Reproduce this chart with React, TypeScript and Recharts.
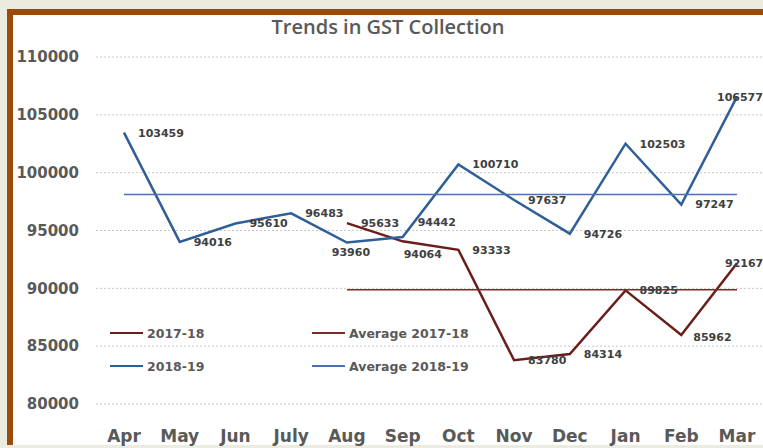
import React from 'react';
import { LineChart, Line, XAxis, YAxis, CartesianGrid, LabelList } from 'recharts';

const MONTHS = ['Apr', 'May', 'Jun', 'July', 'Aug', 'Sep', 'Oct', 'Nov', 'Dec', 'Jan', 'Feb', 'Mar'];
const GST_2017_18 = [null, null, null, null, 95633, 94064, 93333, 83780, 84314, 89825, 85962, 92167];
const GST_2018_19 = [103459, 94016, 95610, 96483, 93960, 94442, 100710, 97637, 94726, 102503, 97247, 106577];
const AVG_2017_18 = [null, null, null, null, 89885, 89885, 89885, 89885, 89885, 89885, 89885, 89885];
const AVG_2018_19 = [98114, 98114, 98114, 98114, 98114, 98114, 98114, 98114, 98114, 98114, 98114, 98114];
const Y_TICKS = [80000, 85000, 90000, 95000, 100000, 105000, 110000];

const data = MONTHS.map((month, i) => ({
  month,
  y1718: GST_2017_18[i],
  avg1718: AVG_2017_18[i],
  y1819: GST_2018_19[i],
  avg1819: AVG_2018_19[i],
}));

const SERIES = [
  { key: 'y1718', name: '2017-18', color: '#6b1d1a', width: 2.5 },
  { key: 'avg1718', name: 'Average 2017-18', color: '#7d2b28', width: 1.5 },
  { key: 'y1819', name: '2018-19', color: '#2f5f98', width: 2.5 },
  { key: 'avg1819', name: 'Average 2018-19', color: '#4a72b2', width: 1.5 },
];

// label nudges (dx, dy, anchor) where the default "right of point" doesn't match
const NUDGE_1819: { [i: number]: [number, number, string] } = {
  4: [4, 10, 'middle'],
  5: [15, -15, 'start'],
  11: [-20, 1, 'start'],
};
const NUDGE_1718: { [i: number]: [number, number, string] } = {
  5: [1, 13, 'start'],
  10: [12, 2, 'start'],
  11: [-12, 0, 'start'],
};

const FONT = '"DejaVu Sans", Verdana, sans-serif';
const GREY = '#595959';

const makeLabel = (nudge: { [i: number]: [number, number, string] }) => (props: any) => {
  const { x, y, value, index } = props;
  if (value == null) return null;
  const [dx, dy, anchor] = nudge[index] || [14, 0, 'start'];
  return (
    <text
      x={x + dx}
      y={y + dy}
      dy="0.35em"
      textAnchor={anchor}
      fontSize={11}
      fontWeight="bold"
      fontFamily={FONT}
      fill="#404040"
    >
      {value}
    </text>
  );
};

// 2x2 legend drawn over the plot: series in the left column, averages in the right
const ChartLegend = () => (
  <div
    style={{
      position: 'absolute',
      left: 110,
      top: 324,
      display: 'grid',
      gridTemplateColumns: '202px 200px',
      gridTemplateRows: '18px 18px',
      gridAutoFlow: 'column',
      rowGap: 15,
    }}
  >
    {[SERIES[0], SERIES[2], SERIES[1], SERIES[3]].map((s) => (
      <div key={s.name} style={{ display: 'flex', alignItems: 'center', height: 18 }}>
        <span
          style={{ display: 'inline-block', width: 33, height: s.width === 2.5 ? 2.5 : 1.5, background: s.color, marginRight: 4 }}
        />
        <span style={{ fontFamily: FONT, fontWeight: 'bold', fontSize: 12.5, color: GREY }}>{s.name}</span>
      </div>
    ))}
  </div>
);

const App: React.FC = () => {
  return (
    <div style={{ position: 'fixed', left: 0, top: 0, width: 763, height: 448, background: '#ebebdf', overflow: 'hidden' }}>
      <div
        style={{
          position: 'absolute',
          left: 7,
          top: 9,
          width: 800,
          height: 436,
          background: '#ffffff',
          borderLeft: '6px solid #9a4a0b',
          borderTop: '6px solid #9a4a0b',
          boxSizing: 'border-box',
        }}
      />
      <div
        style={{
          position: 'absolute',
          left: 0,
          width: 776,
          top: 13,
          textAlign: 'center',
          fontFamily: '"Open Sans", sans-serif',
          fontWeight: 600,
          fontSize: 20,
          color: GREY,
        }}
      >
        Trends in GST Collection
      </div>
      <div style={{ position: 'absolute', left: 0, top: 0 }}>
        <LineChart width={770} height={448} data={data} margin={{ top: 57, right: 4, bottom: 0, left: 0 }}>
          <CartesianGrid horizontal vertical={false} stroke="#c8c8c8" strokeDasharray="2 2" />
          <XAxis
            dataKey="month"
            padding={{ left: 28, right: 29 }}
            axisLine={false}
            tickLine={false}
            tickSize={0}
            tickMargin={26}
            height={44}
            interval={0}
            tick={{ fontFamily: FONT, fontWeight: 'bold', fontSize: 17, fill: GREY }}
          />
          <YAxis
            domain={[80000, 110000]}
            ticks={Y_TICKS}
            axisLine={false}
            tickLine={false}
            tickSize={0}
            tickMargin={17}
            width={96}
            tick={{ fontFamily: FONT, fontWeight: 'bold', fontSize: 15, fill: GREY }}
          />
          {SERIES.map((s) => (
            <Line
              key={s.key}
              name={s.name}
              dataKey={s.key}
              stroke={s.color}
              strokeWidth={s.width}
              dot={false}
              isAnimationActive={false}
            >
              {s.key === 'y1718' && <LabelList dataKey="y1718" content={makeLabel(NUDGE_1718)} />}
              {s.key === 'y1819' && <LabelList dataKey="y1819" content={makeLabel(NUDGE_1819)} />}
            </Line>
          ))}
        </LineChart>
      </div>
      <ChartLegend />
    </div>
  );
};

export default App;
